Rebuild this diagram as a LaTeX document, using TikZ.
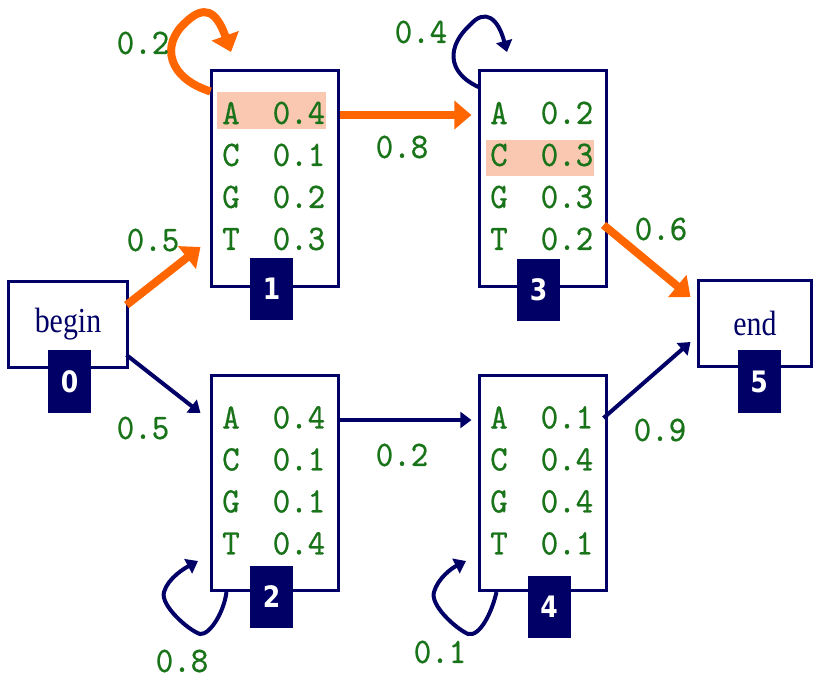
\documentclass[tikz,border=0pt]{standalone}
\usepackage{fontspec}
\usetikzlibrary{arrows.meta,calc}
\newfontfamily\monofont[FakeStretch=0.93,FakeBold=0.6]{lmmono10-regular.otf}
\newfontfamily\wordfont[FakeStretch=0.85]{Liberation Serif}
\newfontfamily\numfont[FakeStretch=0.85]{DejaVu Sans}
\definecolor{stateblue}{RGB}{0,0,102}
\definecolor{pathorange}{RGB}{255,102,0}
\definecolor{emitgreen}{RGB}{25,115,25}
\definecolor{hilite}{RGB}{250,200,176}

\newcommand{\hmmvar}{
\def\rowtop{43.5}   % first emission row below box top
\def\rowstep{42}    % spacing of the rows
\def\colA{20.5}
\def\colB{88.5}
}

\tikzset{
  state/.style={draw=stateblue, line width=0.075cm, fill=white,
    minimum width=3.15cm, minimum height=5.375cm, inner sep=0pt},
  endpt/.style={draw=stateblue, line width=0.075cm, fill=white,
    minimum height=2.15cm, inner sep=0pt, text=stateblue,
    font=\wordfont\fontsize{25}{25}\selectfont},
  numbox/.style={fill=stateblue, minimum width=1.075cm, minimum height=1.55cm,
    inner sep=0pt, text=white, font=\numfont\bfseries\fontsize{21}{21}\selectfont},
  emit/.style={text=emitgreen, inner sep=0pt,
    font=\monofont\fontsize{25.5}{25.5}\selectfont},
  hot/.style={draw=pathorange, line width=0.2cm,
    -{Triangle[length=0.43cm,width=0.7cm]}},
  cold/.style={draw=stateblue, line width=0.1cm,
    -{Triangle[length=0.28cm,width=0.4cm]}},
}

\begin{document}
\begin{tikzpicture}[x=0.025cm,y=-0.025cm]
      \hmmvar
      \useasboundingbox (0,0) rectangle (813,677);
%
      \node[endpt, minimum width=2.95cm] (b) at (68,324.5) {begin};
      \node[endpt, minimum width=2.8cm] (e) at (755,323.5) {end};
      \node[state] (s1) at (275,178.5) {};
      \node[state] (s3) at (543,178.5) {};
      \node[state] (s2) at (275,483) {};
      \node[state] (s4) at (543,483) {};
%
      \fill[hilite] ($(s1.north west)+(7,23)$) rectangle ($(s1.north west)+(116,60)$);
      \fill[hilite] ($(s3.north west)+(8,71)$) rectangle ($(s3.north west)+(116,107)$);
%
      \foreach \s/\pa/\pc/\pg/\pt in {1/0.4/0.1/0.2/0.3, 2/0.4/0.1/0.1/0.4,
                                      3/0.2/0.3/0.3/0.2, 4/0.1/0.4/0.4/0.1}{
        \foreach \l/\p/\k in {A/\pa/0, C/\pc/1, G/\pg/2, T/\pt/3}{
          \node[emit] (s\s-\l) at ($(s\s.north west)+(\colA,\rowtop+\k*\rowstep)$) {\l};
          \node[emit] (s\s-\l p) at ($(s\s.north west)+(\colB,\rowtop+\k*\rowstep)$) {\p};
        }
      }
%
      \node[numbox] (n0) at (69.5,381.5) {0};
      \node[numbox] (n1) at (271.5,289) {1};
      \node[numbox] (n3) at (538.5,290) {3};
      \node[numbox] (n2) at (271.5,596.5) {2};
      \node[numbox] (n4) at (549,607) {4};
      \node[numbox] (n5) at (759,381.5) {5};
%
      \draw[hot] ($(b.east)+(-2,-19.5)$) -- ($(s1.west)+(-10,68.5)$);
      \draw[cold] ($(b.east)+(-2,30.5)$) -- ($(s2.west)+(-10,-70)$);
      \draw[hot] ($(s1.east)+(0,-63.5)$) -- ($(s3.west)+(-7,-63.5)$);
      \draw[cold] ($(s2.east)+(0,-63)$) -- ($(s4.west)+(-7,-63)$);
      \draw[hot] ($(s3.east)+(-4,46.5)$) -- ($(e.west)+(-7,-26.5)$);
      \draw[cold] ($(s4.east)+(-4,-65)$) -- ($(e.west)+(-7,18.5)$);
%
      \draw[hot] ($(s1.north west)+(0,22)$) .. controls (168,78) and (160,45) .. (186,22)
                 .. controls (204,5) and (216,10) .. (231,52);
      \draw[cold] ($(s3.north west)+(1,18)$) .. controls (445,72) and (448,45) .. (470,25)
                 .. controls (485,8) and (498,18) .. (507,52);
      \draw[cold] ($(s2.south west)+(16,0)$) .. controls (224,612) and (210,635) .. (200,634)
                 .. controls (188,630) and (160,605) .. (164,592)
                 .. controls (168,578) and (185,568) .. (198,561);
      \draw[cold] ($(s4.south west)+(18,0)$) .. controls (492,612) and (480,637) .. (468,634)
                 .. controls (455,628) and (430,605) .. (434,592)
                 .. controls (438,578) and (452,568) .. (466,561);
%
      \node[emit] (l11) at (143,43) {0.2};
      \node[emit] (l01) at (153,240) {0.5};
      \node[emit] (l33) at (421,32) {0.4};
      \node[emit] (l13) at (402,147) {0.8};
      \node[emit] (l35) at (661,229) {0.6};
      \node[emit] (l02) at (143,428) {0.5};
      \node[emit] (l24) at (402,455) {0.2};
      \node[emit] (l45) at (660,430) {0.9};
      \node[emit] (l22) at (182,661) {0.8};
      \node[emit] (l44) at (440,652) {0.1};
    \end{tikzpicture}
\end{document}
